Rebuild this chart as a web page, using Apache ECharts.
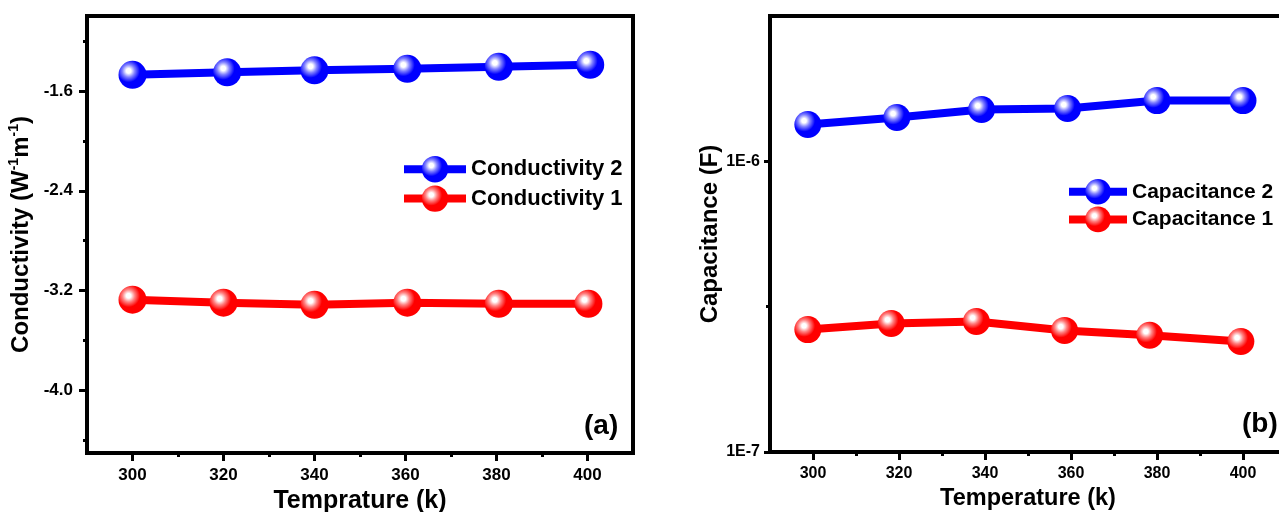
<!DOCTYPE html>
<html>
<head>
<meta charset="utf-8">
<script src="https://cdn.jsdelivr.net/npm/echarts@6/dist/echarts.min.js"></script>
<style>
html,body{margin:0;padding:0;background:#fff;}
#c{width:1279px;height:512px;}
</style>
</head>
<body>
<div id="c"></div>
<script>
// ---- data ----
const leftTemp2 = [300, 320.8, 340, 360.4, 380.5, 400.6];
const conductivity2 = [-1.471, -1.451, -1.435, -1.423, -1.407, -1.391];
const leftTemp1 = [300, 320, 340, 360.4, 380.5, 400.2];
const conductivity1 = [-3.272, -3.296, -3.313, -3.296, -3.305, -3.305];

const rightTemp2 = [298.8, 319.5, 339.2, 359.2, 380, 400];
const capacitance2 = [1.339e-6, 1.416e-6, 1.507e-6, 1.52e-6, 1.618e-6, 1.618e-6];
const rightTemp1 = [298.8, 318.2, 338, 358.5, 378.3, 399.5];
const capacitance1 = [2.637e-7, 2.767e-7, 2.81e-7, 2.62e-7, 2.52e-7, 2.40e-7];

const xTicks = [300, 320, 340, 360, 380, 400];
const xMinorTicks = [310, 330, 350, 370, 390];
const leftYTicks = [-4.0, -3.2, -2.4, -1.6];
const leftYMinorTicks = [-4.4, -3.6, -2.8, -2.0, -1.2];
const rightYTicks = [1e-7, 1e-6];
const rightYMinorTicks = [3.1623e-7];

const seriesNames = ['Conductivity 2', 'Conductivity 1', 'Capacitance 2', 'Capacitance 1'];
const panelLabels = ['(a)', '(b)'];
const axisNames = ['Temprature (k)', 'Temperature (k)', 'Conductivity (W{sup|-1}m{sup|-1})', 'Capacitance (F)'];

// ---- styling ----
const FONT = "'Liberation Sans', Arial, sans-serif";
function sphere(base, mid) {
  return {
    type: 'radial', x: 0.36, y: 0.36, r: 0.7,
    colorStops: [
      {offset: 0, color: '#ffffff'},
      {offset: 0.12, color: '#ffffff'},
      {offset: 0.32, color: mid},
      {offset: 0.58, color: base},
      {offset: 1, color: base}
    ]
  };
}
const BLUE = '#0000ff', RED = '#ff0000';

function mainX(grid, min, max, fs, name, nameFs, nameGap) {
  return {
    type: 'value', gridIndex: grid, min: min, max: max, position: 'bottom',
    name: name, nameLocation: 'middle', nameGap: nameGap,
    nameTextStyle: {fontFamily: FONT, fontWeight: 'bold', fontSize: nameFs, color: '#000'},
    axisLine: {show: true, onZero: false, lineStyle: {color: '#000', width: 4}},
    axisTick: {show: true, inside: false, length: 8, customValues: xTicks, lineStyle: {color: '#000', width: 3}},
    axisLabel: {show: true, customValues: xTicks, margin: 14, fontFamily: FONT, fontWeight: 'bold', fontSize: fs, color: '#000'},
    splitLine: {show: false}
  };
}
function minorX(grid, min, max) {
  return {
    type: 'value', gridIndex: grid, min: min, max: max, position: 'bottom',
    axisLine: {show: false},
    axisTick: {show: true, length: 4, customValues: xMinorTicks, lineStyle: {color: '#000', width: 3}},
    axisLabel: {show: false},
    splitLine: {show: false}
  };
}

const option = {
  animation: false,
  backgroundColor: '#fff',
  grid: [
    {left: 87, top: 16, right: 646, bottom: 59, outerBoundsMode: 'none', containLabel: false,
     show: true, borderColor: '#000', borderWidth: 4, backgroundColor: 'transparent'},
    {left: 770, top: 16, right: -7, bottom: 60, outerBoundsMode: 'none', containLabel: false,
     show: true, borderColor: '#000', borderWidth: 4, backgroundColor: 'transparent'}
  ],
  xAxis: [
    mainX(0, 290, 410, 17, axisNames[0], 25, 30),
    minorX(0, 290, 410),
    mainX(1, 290, 410, 16, axisNames[1], 23.5, 31),
    minorX(1, 290, 410)
  ],
  yAxis: [
    {
      type: 'value', gridIndex: 0, min: -4.5, max: -1.0, position: 'left',
      name: axisNames[2], nameLocation: 'middle', nameGap: 52, nameRotate: 90,
      nameTextStyle: {fontFamily: FONT, fontWeight: 'bold', fontSize: 24, color: '#000',
        rich: {sup: {fontFamily: FONT, fontWeight: 'bold', fontSize: 14, color: '#000', verticalAlign: 'top', lineHeight: 28}}},
      axisLine: {show: true, onZero: false, lineStyle: {color: '#000', width: 4}},
      axisTick: {show: true, length: 8, customValues: leftYTicks, lineStyle: {color: '#000', width: 3}},
      axisLabel: {show: true, customValues: leftYTicks, margin: 14, fontFamily: FONT, fontWeight: 'bold', fontSize: 17, color: '#000',
        formatter: function (v) { return Number(v).toFixed(1); }},
      splitLine: {show: false}
    },
    {
      type: 'value', gridIndex: 0, min: -4.5, max: -1.0, position: 'left',
      axisLine: {show: false},
      axisTick: {show: true, length: 4, customValues: leftYMinorTicks, lineStyle: {color: '#000', width: 3}},
      axisLabel: {show: false},
      splitLine: {show: false}
    },
    {
      type: 'log', logBase: 10, gridIndex: 1, min: 1e-7, max: 3.16228e-6, position: 'left',
      name: axisNames[3], nameLocation: 'middle', nameGap: 45, nameRotate: 90,
      nameTextStyle: {fontFamily: FONT, fontWeight: 'bold', fontSize: 24, color: '#000'},
      axisLine: {show: true, onZero: false, lineStyle: {color: '#000', width: 4}},
      axisTick: {show: true, length: 6, customValues: rightYTicks, lineStyle: {color: '#000', width: 3}},
      axisLabel: {show: true, customValues: rightYTicks, margin: 10, fontFamily: FONT, fontWeight: 'bold', fontSize: 16, color: '#000',
        formatter: function (v) { return '1E' + Math.round(Math.log10(v)); }},
      splitLine: {show: false}
    },
    {
      type: 'log', logBase: 10, gridIndex: 1, min: 1e-7, max: 3.16228e-6, position: 'left',
      axisLine: {show: false},
      axisTick: {show: true, length: 4, customValues: rightYMinorTicks, lineStyle: {color: '#000', width: 3}},
      axisLabel: {show: false},
      splitLine: {show: false}
    }
  ],
  legend: [
    {
      data: [seriesNames[0], seriesNames[1]], orient: 'vertical', left: 395, top: 151,
      itemWidth: 62, itemHeight: 33, itemGap: 3,
      lineStyle: {width: 8},
      textStyle: {fontFamily: FONT, fontWeight: 'bold', fontSize: 22, color: '#000'}
    },
    {
      data: [seriesNames[2], seriesNames[3]], orient: 'vertical', left: 1060, top: 174,
      itemWidth: 58, itemHeight: 32, itemGap: 2,
      lineStyle: {width: 8},
      textStyle: {fontFamily: FONT, fontWeight: 'bold', fontSize: 21, color: '#000'}
    }
  ],
  graphic: [
    {type: 'text', left: 584, top: 412, style: {text: panelLabels[0], font: "bold 28px 'Liberation Sans', Arial", fill: '#000'}},
    {type: 'text', left: 1242, top: 410, style: {text: panelLabels[1], font: "bold 28px 'Liberation Sans', Arial", fill: '#000'}}
  ],
  series: [
    {name: seriesNames[0], type: 'line', xAxisIndex: 0, yAxisIndex: 0,
     data: leftTemp2.map((x, i) => [x, conductivity2[i]]),
     symbol: 'circle', symbolSize: 28, lineStyle: {color: BLUE, width: 8},
     itemStyle: {color: sphere(BLUE, '#8080ff')}},
    {name: seriesNames[1], type: 'line', xAxisIndex: 0, yAxisIndex: 0,
     data: leftTemp1.map((x, i) => [x, conductivity1[i]]),
     symbol: 'circle', symbolSize: 28, lineStyle: {color: RED, width: 8},
     itemStyle: {color: sphere(RED, '#ff8080')}},
    {name: seriesNames[2], type: 'line', xAxisIndex: 2, yAxisIndex: 2,
     data: rightTemp2.map((x, i) => [x, capacitance2[i]]),
     symbol: 'circle', symbolSize: 27, lineStyle: {color: BLUE, width: 8},
     itemStyle: {color: sphere(BLUE, '#8080ff')}},
    {name: seriesNames[3], type: 'line', xAxisIndex: 2, yAxisIndex: 2,
     data: rightTemp1.map((x, i) => [x, capacitance1[i]]),
     symbol: 'circle', symbolSize: 27, lineStyle: {color: RED, width: 8},
     itemStyle: {color: sphere(RED, '#ff8080')}}
  ]
};
const chart = echarts.init(document.getElementById('c'), null, {renderer: 'canvas'});
chart.setOption(option);
</script>
</body>
</html>
